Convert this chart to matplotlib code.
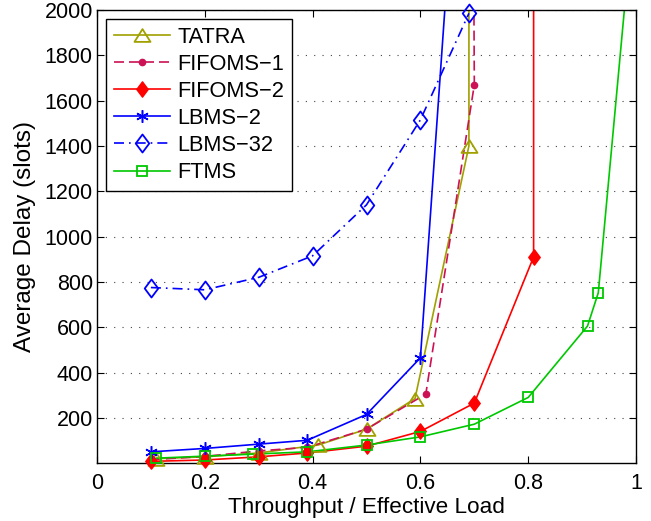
import matplotlib
matplotlib.use("Agg")
import matplotlib.pyplot as plt
from matplotlib.path import Path
import numpy as np

plt.rcParams["font.family"] = ["Liberation Sans", "DejaVu Sans"]

# ---- data ------------------------------------------------------------
tatra_x = [0.11, 0.20, 0.30, 0.41, 0.50, 0.59, 0.69, 0.69]
tatra_y = [20, 28, 45, 80, 150, 285, 1400, 3000]

fifoms1_x = [0.10, 0.20, 0.30, 0.39, 0.50, 0.61, 0.70, 0.698]
fifoms1_y = [15, 30, 54, 70, 150, 305, 1670, 2600]

fifoms2_x = [0.10, 0.20, 0.30, 0.39, 0.50, 0.60, 0.70, 0.81, 0.81]
fifoms2_y = [8, 14, 28, 45, 75, 140, 265, 910, 3000]

lbms2_x = [0.10, 0.20, 0.30, 0.39, 0.50, 0.60, 0.66]
lbms2_y = [50, 65, 84, 101, 215, 465, 2500]

lbms32_x = [0.10, 0.20, 0.30, 0.40, 0.50, 0.60, 0.69]
lbms32_y = [775, 765, 820, 915, 1140, 1515, 1985]

ftms_x = [0.11, 0.20, 0.29, 0.39, 0.50, 0.60, 0.70, 0.80, 0.91, 0.93, 0.99]
ftms_y = [22, 31, 40, 50, 80, 116, 172, 290, 605, 752, 2300]

YMAX = 2000

# matlab-like marker shapes (tall diamond, flat triangle)
diamond = Path([(0, 1), (0.75, 0), (0, -1), (-0.75, 0), (0, 1)],
               [Path.MOVETO, Path.LINETO, Path.LINETO, Path.LINETO, Path.CLOSEPOLY])
triangle = Path([(0, 0.8), (1, -0.8), (-1, -0.8), (0, 0.8)],
                [Path.MOVETO, Path.LINETO, Path.LINETO, Path.CLOSEPOLY])

series = [
    ("TATRA", tatra_x, tatra_y, dict(color="#A0A000", ls="-", marker=triangle,
                                     ms=11.5, mfc="none", mew=1.3)),
    ("FIFOMS\u22121", fifoms1_x, fifoms1_y, dict(color="#CC1155", ls=(0, (6, 3)),
                                               marker="o", ms=4.5)),
    ("FIFOMS\u22122", fifoms2_x, fifoms2_y, dict(color="#FF0000", ls="-",
                                               marker=diamond, ms=11)),
    ("LBMS\u22122", lbms2_x, lbms2_y, dict(color="#0000FF", ls="-", marker=(6, 2, 0),
                                         ms=9, mew=1.1)),
    ("LBMS\u221232", lbms32_x, lbms32_y, dict(color="#0000FF", ls=(0, (6, 3, 1, 3)),
                                            marker=diamond, ms=13, mfc="none",
                                            mew=1.3)),
    ("FTMS", ftms_x, ftms_y, dict(color="#00C800", ls="-", marker="s", ms=7.5,
                                  mfc="none", mew=1.3)),
]

fig = plt.figure(figsize=(6.51, 5.21), dpi=100)
ax = fig.add_axes([0.149, 0.111, 0.828, 0.870])

for name, xs, ys, st in series:
    xs = np.array(xs)
    ys = np.array(ys)
    color = st["color"]
    ax.plot(xs, ys, color=color, ls=st["ls"], lw=1.2)
    inside = ys <= YMAX
    ax.plot(xs[inside], ys[inside], ls="none", marker=st["marker"], ms=st["ms"],
            color=color, mec=color, mfc=st.get("mfc", color),
            mew=st.get("mew", 1.0), clip_on=False, zorder=3)
    # proxy for legend
    ax.plot([], [], color=color, ls=st["ls"], lw=1.2, marker=st["marker"],
            ms=st["ms"], mec=color, mfc=st.get("mfc", color),
            mew=st.get("mew", 1.0), label=name)

ax.set_xlim(0, 1)
ax.set_ylim(0, YMAX)
ax.set_xticks([0, 0.2, 0.4, 0.6, 0.8, 1])
ax.set_xticklabels(["0", "0.2", "0.4", "0.6", "0.8", "1"])
ax.set_yticks(np.arange(200, 2001, 200))
ax.yaxis.grid(True, ls=(0, (1, 6.5)), color="#444444", lw=0.8)
ax.tick_params(direction="in", top=True, right=True, labelsize=15.5, length=5)
ax.tick_params(axis="x", pad=7)
ax.tick_params(axis="y", pad=3)
for s in ax.spines.values():
    s.set_linewidth(1.0)

ax.set_xlabel("Throughput / Effective Load", fontsize=16.2, labelpad=2)
ax.set_ylabel("Average Delay (slots)", fontsize=17.5, labelpad=6)

leg = ax.legend(loc="upper left", fontsize=15.7, fancybox=False, framealpha=1,
                edgecolor="black", handlelength=2.6, borderaxespad=0.42,
                labelspacing=0.28, handletextpad=0.3, borderpad=0.35)
leg.get_frame().set_linewidth(1.0)

fig.savefig("out.png", dpi=100)
